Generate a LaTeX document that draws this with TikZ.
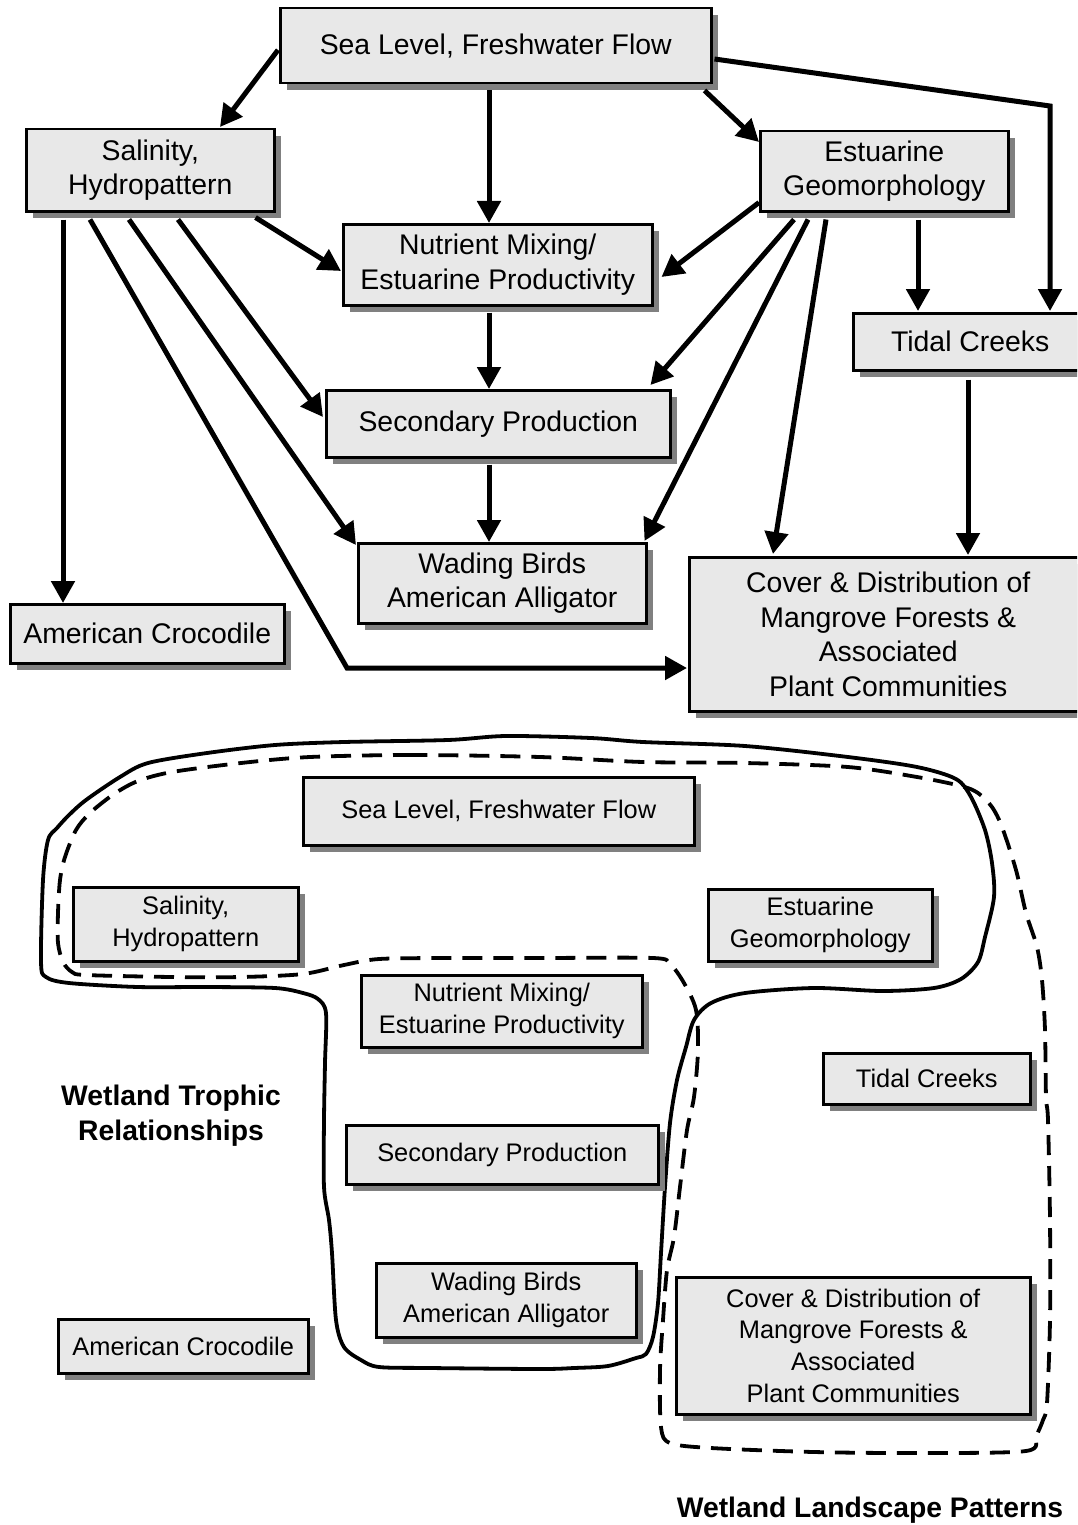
\documentclass[tikz,border=0pt]{standalone}
\usepackage{fontspec}
\setmainfont{Liberation Sans}
\usetikzlibrary{arrows.meta,calc,shadows}
\definecolor{boxfill}{HTML}{E8E8E8}
\definecolor{shadowgray}{HTML}{808080}
\begin{document}
\begin{tikzpicture}[x=1pt,y=-1pt,
  box/.style={draw=black, line width=2.5pt, fill=boxfill, inner sep=0pt,
    align=center, anchor=north west,
    general shadow={fill=shadowgray, shadow xshift=7pt, shadow yshift=-7pt}},
  topbox/.style={box, font=\fontsize{28.4}{34.7}\selectfont},
  botbox/.style={box, font=\fontsize{25.4}{31.7}\selectfont},
  arr/.style={line width=5pt, -{Triangle[length=22pt,width=23pt]}},
  lbl/.style={align=center, inner sep=0pt, font=\fontsize{28.3}{35}\selectfont\bfseries},
  trophic/.style={line width=3.8pt, line join=round},
  landscape/.style={line width=3.8pt, line join=round, dash pattern=on 20pt off 11pt}]
\clip (0,0) rectangle (1077,1525);
\fill[white] (0,0) rectangle (1077,1525);

% ---------- causal network ----------
\node[topbox, minimum width=431pt, minimum height=75pt]  (sea)  at (279,7)   {Sea Level, Freshwater Flow};
\node[topbox, minimum width=248pt, minimum height=82pt]  (sal)  at (25,128)  {Salinity,\\Hydropattern};
\node[topbox, minimum width=309pt, minimum height=81pt]  (nut)  at (342,223) {Nutrient Mixing/\\Estuarine Productivity};
\node[topbox, minimum width=248pt, minimum height=80pt]  (est)  at (759,130) {Estuarine\\Geomorphology};
\node[topbox, minimum width=234pt, minimum height=57pt]  (tid)  at (852,312) {Tidal Creeks};
\node[topbox, minimum width=398pt, minimum height=154pt] (cov)  at (688,556) {Cover \& Distribution of\\Mangrove Forests \&\\Associated\\Plant Communities};
\node[topbox, minimum width=344pt, minimum height=67pt]  (sec)  at (325,389) {Secondary Production};
\node[topbox, minimum width=288pt, minimum height=80pt]  (wad)  at (357,542) {Wading Birds\\American Alligator};
\node[topbox, minimum width=274pt, minimum height=59pt]  (croc) at (9,603)   {American Crocodile};

% links out of Sea Level, Freshwater Flow
\draw[arr] ($(sea.north west)+(-1,43)$) -- ($(sal.north west)+(195,-1)$);
\draw[arr] ($(sea.south west)+(210,6)$) -- ($(nut.north west)+(147,0)$);
\draw[arr] ($(sea.south east)+(-8,6)$) -- ($(est.north west)+(0,12)$);
\draw[arr, line join=miter] ($(sea.north east)+(2,52)$) -- ($(tid.north west)+(198,-206)$) -- ($(tid.north west)+(198,-1)$);

% links out of Salinity, Hydropattern
\draw[arr] ($(sal.south east)+(-20,5)$) -- ($(nut.north west)+(-1,48)$);
\draw[arr] ($(sal.south west)+(38,7)$) -- ($(croc.north west)+(54,0)$);
\draw[arr] ($(sal.south west)+(153,7)$) -- ($(sec.north west)+(-2,28)$);
\draw[arr] ($(sal.south west)+(104,7)$) -- ($(wad.north west)+(-1,3)$);
\draw[arr, line join=miter] ($(sal.south west)+(65,7)$) -- ($(cov.north west)+(-341,112)$) -- ($(cov.north west)+(-1,112)$);

% trophic chain
\draw[arr] ($(nut.south west)+(147,6)$) -- ($(sec.north west)+(164,0)$);
\draw[arr] ($(sec.south west)+(164,6)$) -- ($(wad.north west)+(132,0)$);

% links out of Estuarine Geomorphology
\draw[arr] ($(est.south west)+(0,-10)$) -- ($(nut.north east)+(8,54)$);
\draw[arr] ($(est.south west)+(159,7)$) -- ($(tid.north west)+(66,-1)$);
\draw[arr] ($(est.south west)+(35,7)$) -- ($(sec.north east)+(-21,-4)$);
\draw[arr] ($(est.south west)+(49,7)$) -- ($(wad.north east)+(-3,-1)$);
\draw[arr] ($(est.south west)+(67,7)$) -- ($(cov.north west)+(85,-2)$);

% Tidal Creeks to mangroves
\draw[arr] ($(tid.south west)+(116,8)$) -- ($(cov.north west)+(280,-1)$);

% ---------- grouping of the same components ----------
\draw[trophic] plot[smooth cycle, tension=0.5] coordinates {
  (43,880) (48,840) (57,828) (69,815) (86,800) (120,777) (148,763) (207,753)
  (275,745) (344,742) (448,740) (506,736) (591,738) (643,742) (745,746)
  (848,757) (917,767) (956,779) (971,797) (985,830) (992,863) (994,897)
  (985,937) (978,962) (961,979) (934,988) (882,991) (814,988) (745,993)
  (711,1003) (694,1020) (686,1047) (677,1080) (670,1123) (665,1187)
  (661,1253) (658,1303) (653,1337) (646,1354) (636,1358) (608,1366)
  (574,1368) (540,1369) (430,1368) (379,1367) (361,1360) (344,1347)
  (336,1320) (332,1253) (329,1220) (324,1187) (324,1120) (325,1063)
  (326,1013) (318,999) (303,993) (275,988) (207,987) (138,987) (69,983)
  (46,977) (41,962)};

\draw[landscape] plot[smooth cycle, tension=0.5] coordinates {
  (540,757) (413,755) (310,757) (241,763) (172,772) (138,781) (114,794)
  (90,813) (76,830) (65,857) (60,880) (58,913) (58,943) (63,962) (72,972)
  (86,975) (172,977) (241,977) (303,974) (344,965) (379,959) (448,958)
  (540,958) (653,958) (670,964) (684,983) (696,1010) (698,1050) (694,1097)
  (687,1130) (680,1187) (674,1237) (667,1270) (663,1320) (660,1370)
  (661,1427) (670,1443) (711,1448) (814,1452) (917,1453) (1026,1451)
  (1036,1436) (1043,1420) (1047,1403) (1050,1320) (1050,1220) (1048,1120)
  (1046,1097) (1045,1030) (1042,980) (1037,947) (1026,913) (1016,870)
  (1002,827) (992,807) (978,793) (961,786) (917,777) (848,767) (745,763)
  (643,762)};

\node[botbox, minimum width=391pt, minimum height=68pt]  (bsea)  at (302,776)  {Sea Level, Freshwater Flow};
\node[botbox, minimum width=225pt, minimum height=74pt]  (bsal)  at (72,886)   {Salinity,\\Hydropattern};
\node[botbox, minimum width=224pt, minimum height=72pt]  (best)  at (707,888)  {Estuarine\\Geomorphology};
\node[botbox, minimum width=281pt, minimum height=72pt]  (bnut)  at (360,974)  {Nutrient Mixing/\\Estuarine Productivity};
\node[botbox, minimum width=207pt, minimum height=51pt]  (btid)  at (822,1052) {Tidal Creeks};
\node[botbox, minimum width=312pt, minimum height=59pt]  (bsec)  at (345,1124) {Secondary Production};
\node[botbox, minimum width=260pt, minimum height=74pt]  (bwad)  at (375,1262) {Wading Birds\\American Alligator};
\node[botbox, minimum width=250pt, minimum height=54pt]  (bcroc) at (57,1318)  {American Crocodile};
\node[botbox, minimum width=354pt, minimum height=137pt] (bcov)  at (675,1276) {Cover \& Distribution of\\Mangrove Forests \&\\Associated\\Plant Communities};

\node[lbl] (trophlbl) at (171,1116) {Wetland Trophic\\Relationships};
\node[lbl] (landlbl)  at (870,1510) {Wetland Landscape Patterns};
\end{tikzpicture}
\end{document}
